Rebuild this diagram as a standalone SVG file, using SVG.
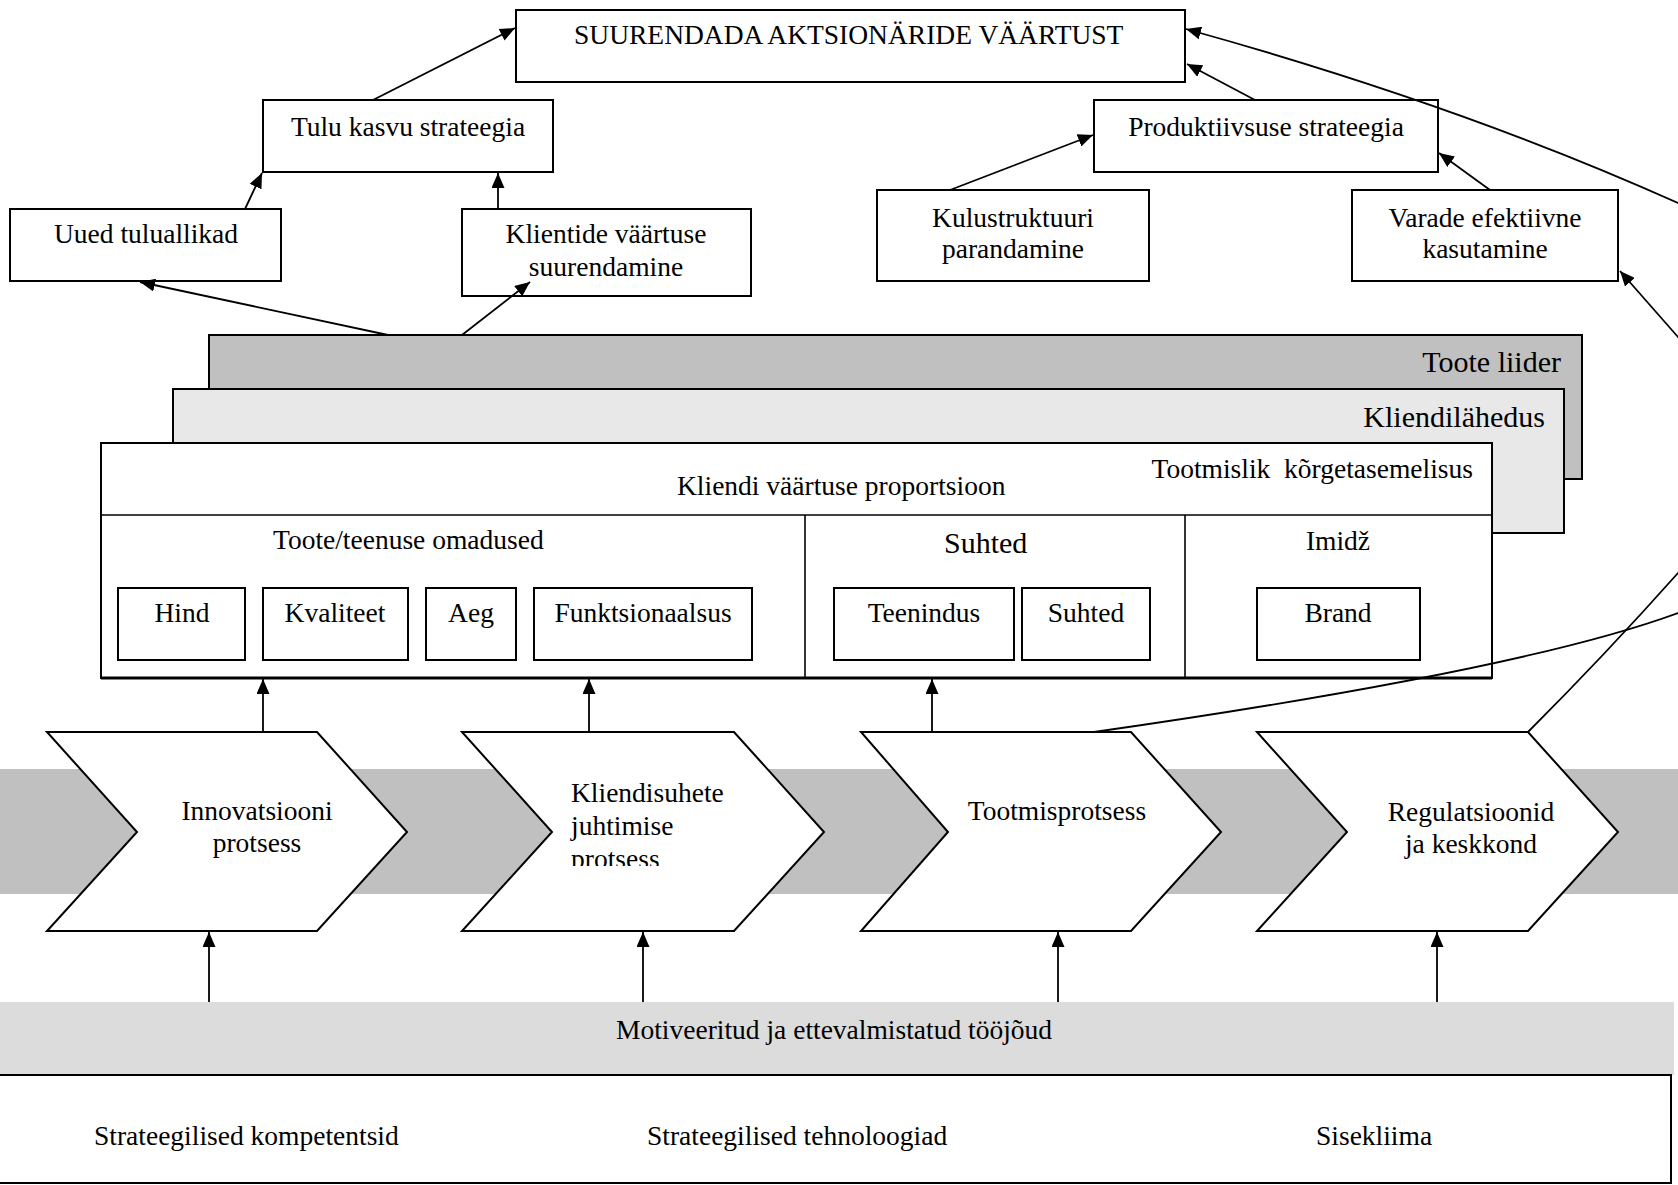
<svg xmlns="http://www.w3.org/2000/svg" width="1678" height="1185" viewBox="0 0 1678 1185">
  <defs>
    <marker id="ah" viewBox="0 0 15 13" refX="15" refY="6.5" markerWidth="15" markerHeight="13" orient="auto" markerUnits="userSpaceOnUse">
      <path d="M0,0 L15,6.5 L0,13 z" fill="#000"/>
    </marker>
    <clipPath id="clip-kliendisuhete">
      <rect x="540" y="760" width="220" height="106"/>
    </clipPath>
  </defs>
  <style>
    text { font-family: "Liberation Serif", "Times New Roman", serif; font-size: 27.5px; fill: #000; }
    .big { font-size: 30px; }
    .mid { text-anchor: middle; }
    .end { text-anchor: end; }
    .box { fill: #fff; stroke: #000; stroke-width: 2; }
    .thin { fill: none; stroke: #000; stroke-width: 1.6; }
    .chev { fill: #fff; stroke: #000; stroke-width: 2; stroke-linejoin: miter; }
    .conn { fill: none; stroke: #000; stroke-width: 1.8; }
    .arr { marker-end: url(#ah); }
  </style>

  <rect x="0" y="0" width="1678" height="1185" fill="#fff"/>

  <!-- strategy tree -->
  <g id="aktsionaride-vaartus">
    <rect class="box" x="516" y="10" width="669" height="72"/>
    <text x="574" y="44">SUURENDADA AKTSIONÄRIDE VÄÄRTUST</text>
  </g>
  <g id="tulu-kasvu-strateegia">
    <rect class="box" x="263" y="100" width="290" height="72"/>
    <text class="mid" x="408" y="136">Tulu kasvu strateegia</text>
  </g>
  <g id="produktiivsuse-strateegia">
    <rect class="box" x="1094" y="100" width="344" height="72"/>
    <text class="mid" x="1266" y="136">Produktiivsuse strateegia</text>
  </g>
  <g id="uued-tuluallikad">
    <rect class="box" x="10" y="209" width="271" height="72"/>
    <text class="mid" x="146" y="243">Uued tuluallikad</text>
  </g>
  <g id="klientide-vaartus">
    <rect class="box" x="462" y="209" width="289" height="87"/>
    <text class="mid" x="606" y="243">Klientide väärtuse</text>
    <text class="mid" x="606" y="276">suurendamine</text>
  </g>
  <g id="kulustruktuur">
    <rect class="box" x="877" y="190" width="272" height="91"/>
    <text class="mid" x="1013" y="227">Kulustruktuuri</text>
    <text class="mid" x="1013" y="258">parandamine</text>
  </g>
  <g id="varade-kasutamine">
    <rect class="box" x="1352" y="190" width="266" height="91"/>
    <text class="mid" x="1485" y="227">Varade efektiivne</text>
    <text class="mid" x="1485" y="258">kasutamine</text>
  </g>

  <!-- value discipline layers -->
  <g id="toote-liider">
    <rect x="209" y="335" width="1373" height="144" fill="#c0c0c0" stroke="#000" stroke-width="2"/>
    <text class="big end" x="1561" y="372">Toote liider</text>
  </g>
  <g id="kliendilahedus">
    <rect x="173" y="389" width="1391" height="144" fill="#e8e8e8" stroke="#000" stroke-width="2"/>
    <text class="big end" x="1545" y="427">Kliendilähedus</text>
  </g>
  <g id="kliendi-vaartuse-proportsioon">
    <rect class="box" x="101" y="443" width="1391" height="235"/>
    <line class="thin" x1="101" y1="515" x2="1492" y2="515"/>
    <line class="thin" x1="805" y1="515" x2="805" y2="678"/>
    <line class="thin" x1="1185" y1="515" x2="1185" y2="678"/>
    <line x1="101" y1="678" x2="1492" y2="678" stroke="#000" stroke-width="3"/>
    <text x="677" y="495">Kliendi väärtuse proportsioon</text>
    <text class="end" x="1473" y="478">Tootmislik&#160; kõrgetasemelisus</text>
    <text x="273" y="549">Toote/teenuse omadused</text>
    <text class="big" x="944" y="553">Suhted</text>
    <text class="mid" x="1338" y="550">Imidž</text>
  </g>
  <g id="hind">
    <rect class="box" x="118" y="588" width="127" height="72"/>
    <text class="mid" x="182" y="622">Hind</text>
  </g>
  <g id="kvaliteet">
    <rect class="box" x="263" y="588" width="145" height="72"/>
    <text class="mid" x="335" y="622">Kvaliteet</text>
  </g>
  <g id="aeg">
    <rect class="box" x="426" y="588" width="90" height="72"/>
    <text class="mid" x="471" y="622">Aeg</text>
  </g>
  <g id="funktsionaalsus">
    <rect class="box" x="534" y="588" width="218" height="72"/>
    <text class="mid" x="643" y="622">Funktsionaalsus</text>
  </g>
  <g id="teenindus">
    <rect class="box" x="834" y="588" width="180" height="72"/>
    <text class="mid" x="924" y="622">Teenindus</text>
  </g>
  <g id="suhted">
    <rect class="box" x="1022" y="588" width="128" height="72"/>
    <text class="mid" x="1086" y="622">Suhted</text>
  </g>
  <g id="brand">
    <rect class="box" x="1257" y="588" width="163" height="72"/>
    <text class="mid" x="1338" y="622">Brand</text>
  </g>

  <!-- internal process chain -->
  <rect id="protsessiriba" x="0" y="769" width="1678" height="125" fill="#c0c0c0"/>
  <g id="innovatsiooni-protsess">
    <path class="chev" d="M47,732 L317,732 L407,832 L317,931 L47,931 L137,832 Z"/>
    <text class="mid" x="257" y="820">Innovatsiooni</text>
    <text class="mid" x="257" y="852">protsess</text>
  </g>
  <g id="kliendisuhete-protsess">
    <path class="chev" d="M462,732 L734,732 L824,832 L734,931 L462,931 L552,832 Z"/>
    <g clip-path="url(#clip-kliendisuhete)">
      <text x="571" y="802">Kliendisuhete</text>
      <text x="571" y="835">juhtimise</text>
      <text x="571" y="868">protsess</text>
    </g>
  </g>
  <g id="tootmisprotsess">
    <path class="chev" d="M861,732 L1131,732 L1221,832 L1131,931 L861,931 L948,832 Z"/>
    <text class="mid" x="1057" y="820">Tootmisprotsess</text>
  </g>
  <g id="regulatsioonid">
    <path class="chev" d="M1257,732 L1528,732 L1618,832 L1528,931 L1257,931 L1347,832 Z"/>
    <text class="mid" x="1471" y="821">Regulatsioonid</text>
    <text class="mid" x="1471" y="853">ja keskkond</text>
  </g>

  <!-- learning and growth -->
  <g id="tooojoud">
    <rect x="0" y="1002" width="1674" height="73" fill="#dcdcdc"/>
    <text x="616" y="1039">Motiveeritud ja ettevalmistatud tööjõud</text>
  </g>
  <g id="infrastruktuur">
    <rect x="-2" y="1075" width="1673" height="108" fill="#fff" stroke="#000" stroke-width="2"/>
    <text x="94" y="1145">Strateegilised kompetentsid</text>
    <text x="647" y="1145">Strateegilised tehnoloogiad</text>
    <text x="1316" y="1145">Sisekliima</text>
  </g>

  <!-- connectors -->
  <g id="connectors">
    <path class="conn arr" d="M373,100 L515,28"/>
    <path class="conn arr" d="M245,209 L262,173"/>
    <path class="conn arr" d="M498,209 L498,173"/>
    <path class="conn arr" d="M388,335 L140,282"/>
    <path class="conn arr" d="M462,335 L530,282"/>
    <path class="conn arr" d="M1255,100 L1187,64"/>
    <path class="conn arr" d="M950,190 L1093,135"/>
    <path class="conn arr" d="M1490,190 L1439,153"/>
    <path class="conn arr" d="M1094,732 Q1520,671 1678,613 C1740,590 1738,230 1678,203 Q1460,105 1186,29"/>
    <path class="conn arr" d="M1528,732 Q1605,655 1678,573 C1740,500 1740,400 1678,337 L1620,271"/>
    <path class="conn arr" d="M263,732 L263,679"/>
    <path class="conn arr" d="M589,732 L589,679"/>
    <path class="conn arr" d="M932,732 L932,679"/>
    <path class="conn arr" d="M209,1002 L209,932"/>
    <path class="conn arr" d="M643,1002 L643,932"/>
    <path class="conn arr" d="M1058,1002 L1058,932"/>
    <path class="conn arr" d="M1437,1002 L1437,932"/>
  </g>
</svg>
